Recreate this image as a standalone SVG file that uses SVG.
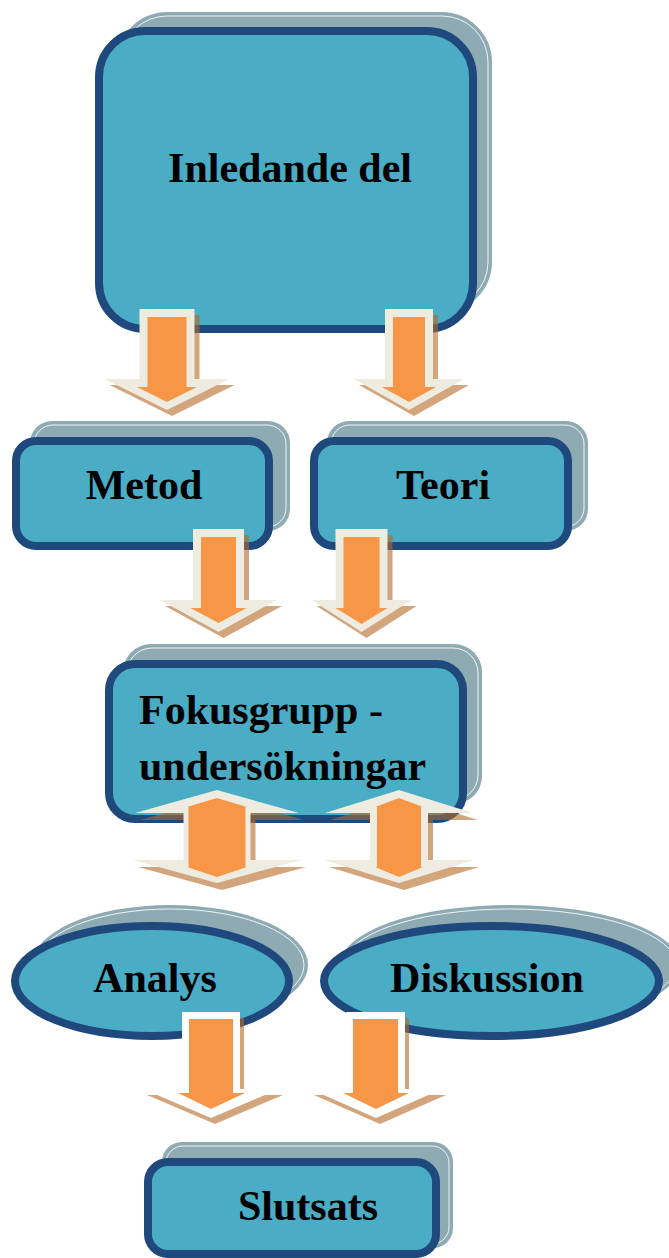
<svg xmlns="http://www.w3.org/2000/svg" xmlns:xlink="http://www.w3.org/1999/xlink" width="669" height="1258" viewBox="0 0 669 1258">
  <style>
    .back { fill: #8EABB4; }
    .gloss { fill: none; stroke: #FFFFFF; stroke-width: 1; stroke-opacity: 0.85; }
    .face { fill: #4BACC6; stroke: #1F497D; stroke-width: 8; }
    .label { font-family: "Liberation Serif", "Times New Roman", serif; font-weight: bold; font-size: 42px; fill: #000000; }
    .shd { fill: rgb(180,105,38); fill-opacity: 0.6; }
    .rim { fill: #EEECE1; }
    .rimw { fill: #FFFFFF; }
    .core { fill: #F79646; }
  </style>
  <defs>
    <!-- block arrow outlines, reused for the drop shadow and the rim -->
    <path id="a1" d="M139.5,309 H194.5 V379 H229.5 L167,410 L104.5,379 H139.5 Z"/>
    <path id="a2" d="M385,309 H433 V379 H464 L409,410 L354,379 H385 Z"/>
    <path id="a3" d="M193,529 H244 V600 H277 L218.5,632 L160,600 H193 Z"/>
    <path id="a4" d="M335.5,529 H387.5 V600 H411.5 L361.5,632 L311.5,600 H335.5 Z"/>
    <path id="d1" d="M217,790 L299,813 H250.5 V860 H301 L217,883 L133,860 H183.5 V813 H135 Z"/>
    <path id="d2" d="M399,790 L473,813 H428 V860 H474 L399,883 L324,860 H370 V813 H325 Z"/>
    <path id="a5" d="M182,1012 H240 V1089 H279 L211,1118 L143,1089 H182 Z"/>
    <path id="a6" d="M346,1012 H405 V1089 H442 L376,1118 L310,1089 H346 Z"/>
  </defs>

  <g id="inledande">
    <rect class="back" x="117" y="12" width="375" height="300" rx="50"/>
    <rect class="gloss" x="121" y="16" width="367" height="292" rx="46"/>
    <rect class="face" x="99" y="31" width="374" height="298" rx="46"/>
    <text class="label" x="290" y="182" text-anchor="middle">Inledande del</text>
  </g>

  <g id="metod">
    <rect class="back" x="30" y="421" width="260" height="110" rx="22"/>
    <rect class="gloss" x="34" y="425" width="252" height="102" rx="19"/>
    <rect class="face" x="16" y="441" width="253" height="105" rx="20"/>
    <text class="label" x="144" y="499" text-anchor="middle">Metod</text>
  </g>

  <g id="teori">
    <rect class="back" x="327" y="421" width="261" height="110" rx="22"/>
    <rect class="gloss" x="331" y="425" width="253" height="102" rx="19"/>
    <rect class="face" x="314" y="441" width="254" height="105" rx="20"/>
    <text class="label" x="443" y="499" text-anchor="middle">Teori</text>
  </g>

  <g id="fokusgrupp">
    <rect class="back" x="123" y="644" width="359" height="160" rx="28"/>
    <rect class="gloss" x="127" y="648" width="351" height="152" rx="25"/>
    <rect class="face" x="109" y="664" width="354" height="155" rx="26"/>
    <text class="label" x="139" y="724">Fokusgrupp -</text>
    <text class="label" x="139" y="780">undersökningar</text>
  </g>

  <g id="analys">
    <ellipse class="back" cx="170" cy="965" rx="138" ry="60"/>
    <ellipse class="gloss" cx="170" cy="965" rx="134" ry="56"/>
    <ellipse class="face" cx="152" cy="981" rx="137" ry="55"/>
    <text class="label" x="155" y="992" text-anchor="middle">Analys</text>
  </g>

  <g id="diskussion">
    <ellipse class="back" cx="510" cy="965" rx="170" ry="60"/>
    <ellipse class="gloss" cx="510" cy="965" rx="166" ry="56"/>
    <ellipse class="face" cx="491.5" cy="981" rx="167.5" ry="55"/>
    <text class="label" x="487" y="992" text-anchor="middle">Diskussion</text>
  </g>

  <g id="slutsats">
    <rect class="back" x="162" y="1142" width="291" height="106" rx="20"/>
    <rect class="gloss" x="166" y="1146" width="283" height="98" rx="17"/>
    <rect class="face" x="148" y="1162" width="288" height="92" rx="20"/>
    <text class="label" x="308" y="1220" text-anchor="middle">Slutsats</text>
  </g>

  <g id="connectors">
    <!-- Inledande del -> Metod / Teori -->
    <use xlink:href="#a1" class="shd" transform="translate(5,6)"/>
    <use xlink:href="#a1" class="rim"/>
    <path class="core" d="M147.5,317 H186.5 V387 H197 L167,402 L137,387 H147.5 Z"/>
    <use xlink:href="#a2" class="shd" transform="translate(5,6)"/>
    <use xlink:href="#a2" class="rim"/>
    <path class="core" d="M393,317 H425 V387 H436 L409,402 L382,387 H393 Z"/>

    <!-- Metod / Teori -> Fokusgrupp -->
    <use xlink:href="#a3" class="shd" transform="translate(5,6)"/>
    <use xlink:href="#a3" class="rim"/>
    <path class="core" d="M201,537 H236 V608 H246.5 L218.5,623 L190.5,608 H201 Z"/>
    <use xlink:href="#a4" class="shd" transform="translate(5,6)"/>
    <use xlink:href="#a4" class="rim"/>
    <path class="core" d="M343.5,537 H379.5 V608 H387.5 L361.5,624 L335.5,608 H343.5 Z"/>

    <!-- Fokusgrupp <-> Analys / Diskussion -->
    <use xlink:href="#d1" class="shd" transform="translate(5,7)"/>
    <use xlink:href="#d1" class="rim"/>
    <path class="core" d="M217,798 L247,807 H245.5 V867 H247 L217,877 L187,867 H188.5 V807 H187 Z"/>
    <use xlink:href="#d2" class="shd" transform="translate(5,7)"/>
    <use xlink:href="#d2" class="rim"/>
    <path class="core" d="M399,798 L423,807 H421 V867 H423 L399,877 L375,867 H377 V807 H375 Z"/>

    <!-- Analys / Diskussion -> Slutsats -->
    <use xlink:href="#a5" class="shd" transform="translate(4,6)"/>
    <use xlink:href="#a5" class="rimw"/>
    <path class="core" d="M189,1019 H233 V1093 H245 L211,1109 L178,1093 H189 Z"/>
    <use xlink:href="#a6" class="shd" transform="translate(4,6)"/>
    <use xlink:href="#a6" class="rimw"/>
    <path class="core" d="M353,1019 H398 V1093 H409 L376,1109 L343,1093 H353 Z"/>
  </g>
</svg>
